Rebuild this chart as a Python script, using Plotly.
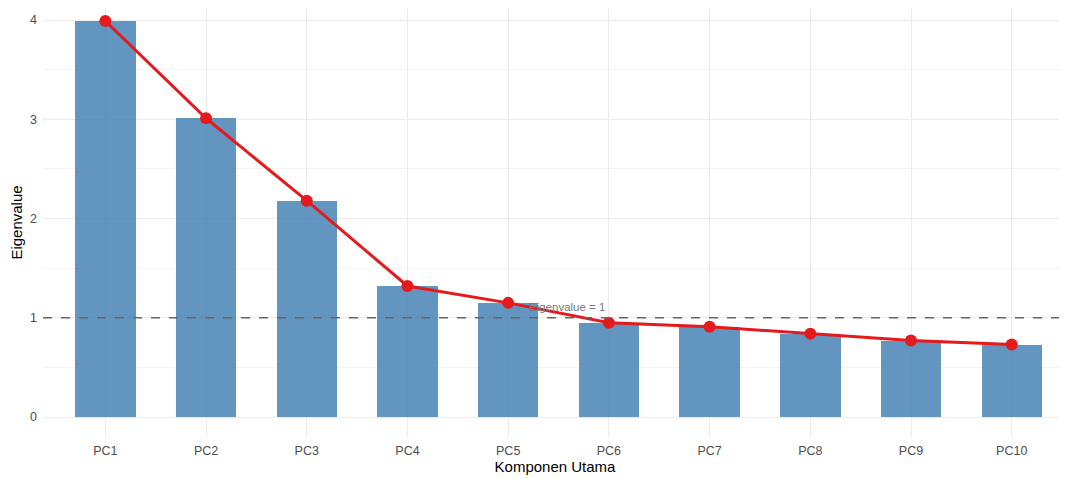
import plotly.graph_objects as go

components = ["PC1", "PC2", "PC3", "PC4", "PC5", "PC6", "PC7", "PC8", "PC9", "PC10"]
eigenvalues = [3.99, 3.01, 2.18, 1.32, 1.15, 0.95, 0.91, 0.84, 0.77, 0.73]
y_ticks = [0, 1, 2, 3, 4]
threshold = 1
threshold_label = "Eigenvalue = 1"

fig = go.Figure()
fig.add_trace(go.Bar(
    x=components, y=eigenvalues, width=0.6,
    marker=dict(color="rgba(70,130,180,0.85)", line=dict(width=0)),
    showlegend=False, hoverinfo="skip",
))
fig.add_trace(go.Scatter(
    x=components, y=eigenvalues, mode="lines+markers",
    line=dict(color="#E41A1C", width=3),
    marker=dict(color="#E41A1C", size=12),
    showlegend=False,
))
fig.add_shape(type="line", xref="paper", x0=0, x1=1, yref="y", y0=threshold, y1=threshold,
              line=dict(color="#666666", width=1.7, dash="dash"), layer="above")
fig.add_annotation(x=4.58, y=1.11, xref="x", yref="y", text=threshold_label, showarrow=False,
                   font=dict(family="Liberation Sans, Arial", size=11.5, color="#777777"))

fig.update_layout(
    width=1059, height=471,
    margin=dict(l=35, r=0, t=0, b=42),
    plot_bgcolor="white", paper_bgcolor="white",
    font=dict(family="Liberation Sans, Arial", color="#4D4D4D"),
    bargap=0,
)
fig.update_xaxes(
    type="category", range=[-0.619, 9.549], automargin=False,
    showgrid=True, gridcolor="#EBEBEB", gridwidth=1,
    zeroline=False, showline=False, ticks="", ticklabelstandoff=4,
    tickfont=dict(size=12.5, color="#4D4D4D"),
    title=dict(text="Komponen Utama", font=dict(size=15, color="black"), standoff=4),
)
fig.update_yaxes(
    range=[-0.2015, 4.121], tickvals=y_ticks, automargin=False,
    showgrid=True, gridcolor="#EBEBEB", gridwidth=1,
    minor=dict(dtick=0.5, showgrid=True, gridcolor="#F3F3F3", gridwidth=0.8),
    zeroline=False, showline=False, ticks="", ticklabelstandoff=5,
    tickfont=dict(size=12.5, color="#4D4D4D"),
    title=dict(text="Eigenvalue", font=dict(size=15, color="black"), standoff=8),
)
fig.write_html("out.html")
